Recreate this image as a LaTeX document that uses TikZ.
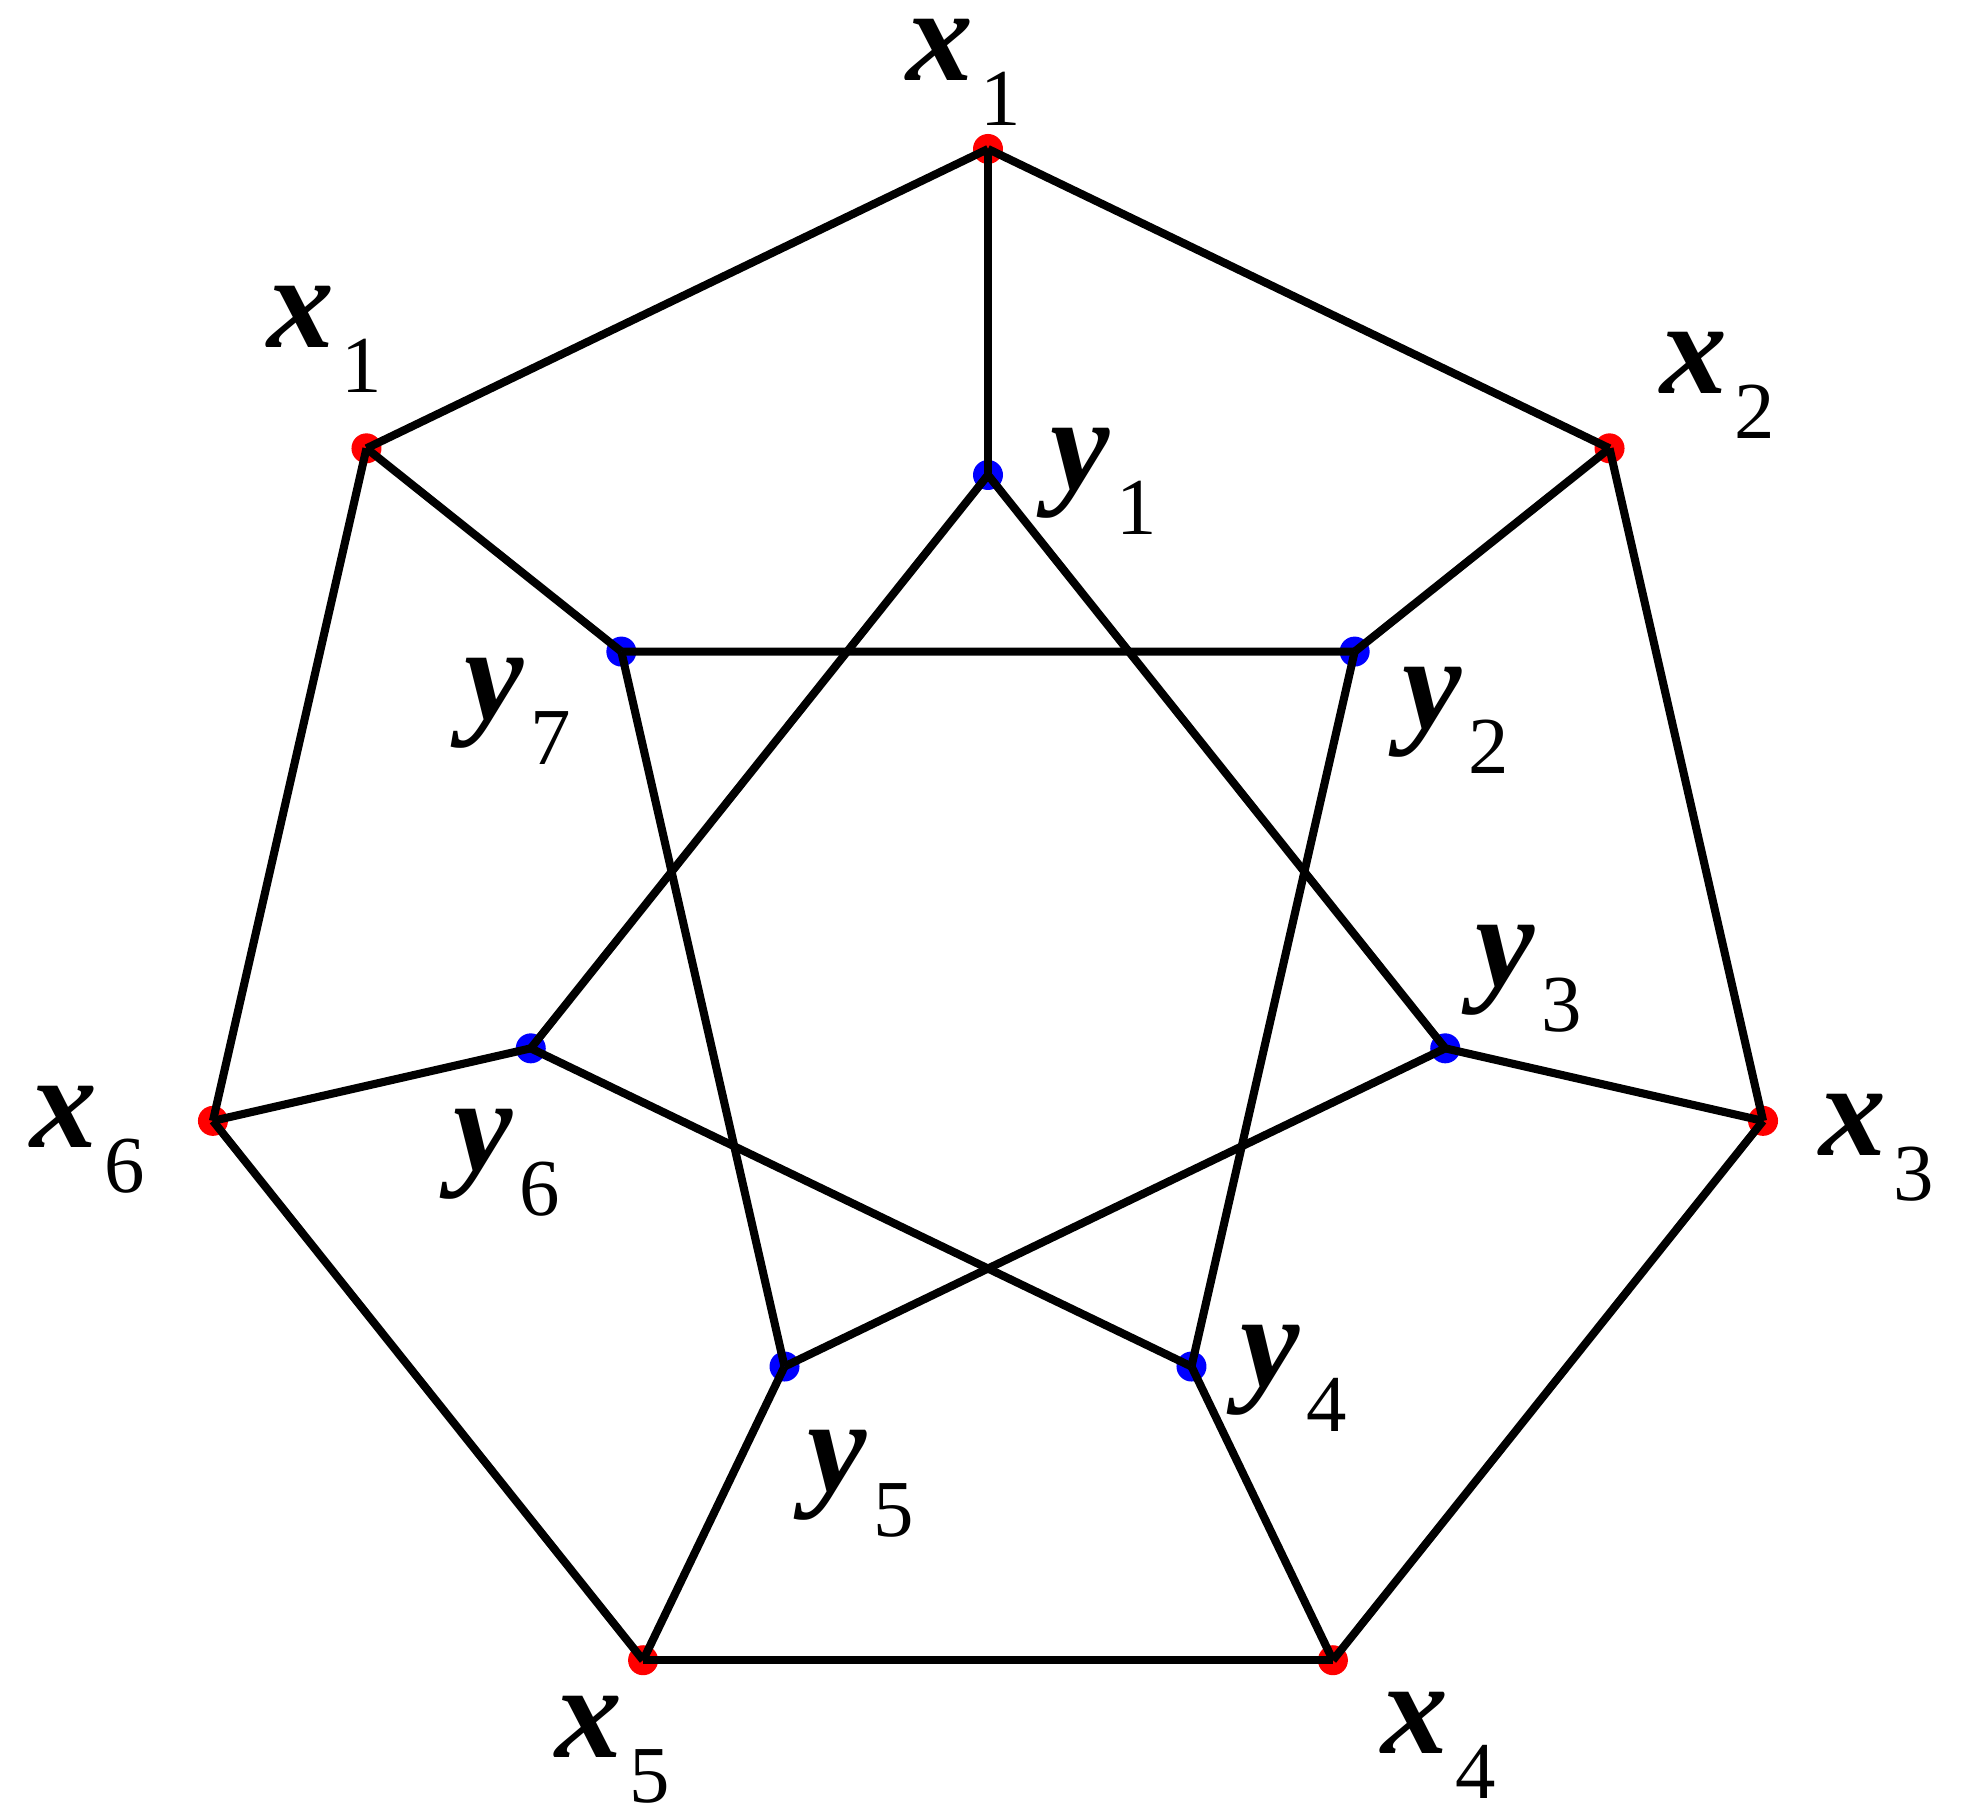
\documentclass[tikz,border=0pt]{standalone}
\usepackage{fontspec}
\setmainfont{Liberation Serif}
\usepackage{xcolor}

\newcommand{\vlab}[2]{{\fontsize{38}{38}\selectfont\bfseries\itshape #1}\hspace{2pt}\raisebox{-12.8pt}{\fontsize{23}{23}\selectfont #2}}

\begin{document}
\begin{tikzpicture}[
    xdot/.style={circle, fill=red, inner sep=0pt, minimum size=0.3cm},
    ydot/.style={circle, fill=blue, inner sep=0pt, minimum size=0.3cm},
    edge/.style={line width=2.3pt, black},
    vlabel/.style={inner sep=0pt}]
    \useasboundingbox (-9.88,-8.64) rectangle (9.81,9.44);

    % Vertices
    \foreach \i in {1,...,7}
        \node[xdot] (x\i) at ({90-(\i-1)*360/7}:7.95) {};
    \foreach \i in {1,...,7}
        \node[ydot] (y\i) at ({90-(\i-1)*360/7}:4.69) {};

    % Outer cycle
    \foreach \i/\j in {1/2, 2/3, 3/4, 4/5, 5/6, 6/7, 7/1}
        \draw[edge] (x\i.center) -- (x\j.center);

    % Spokes
    \foreach \i in {1,...,7}
        \draw[edge] (x\i.center) -- (y\i.center);

    % Inner star
    \foreach \i/\j in {1/3, 2/4, 3/5, 4/6, 5/7, 6/1, 7/2}
        \draw[edge] (y\i.center) -- (y\j.center);

    % Labels
    \foreach \n/\t/\s/\lx/\ly in {x1/x/1/-0.24/8.72, x2/x/2/7.30/5.59, x3/x/3/8.89/-2.04,
            x4/x/4/4.51/-8.01, x5/x/5/-3.75/-8.06, x6/x/6/-9.00/-1.96, x7/x/1/-6.63/6.05,
            y1/y/1/1.16/4.63, y2/y/2/4.68/2.24, y3/y/3/5.41/-0.35, y4/y/4/3.06/-4.34,
            y5/y/5/-1.27/-5.40, y6/y/6/-4.81/-2.19, y7/y/7/-4.70/2.33}
        \node[vlabel] (l\n) at (\lx,\ly) {\vlab{\t}{\s}};
\end{tikzpicture}
\end{document}
